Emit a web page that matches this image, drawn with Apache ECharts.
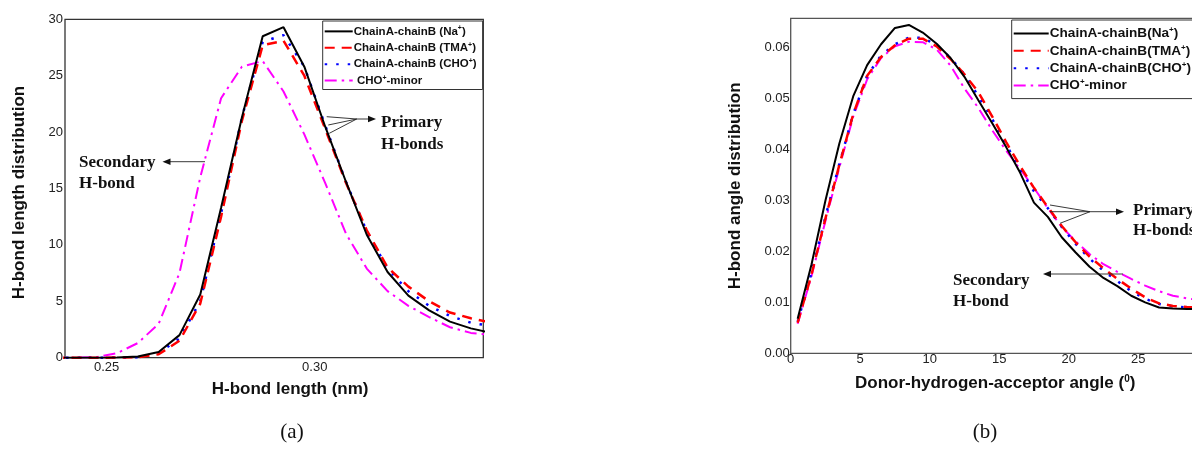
<!DOCTYPE html>
<html>
<head>
<meta charset="utf-8">
<script src="https://cdn.jsdelivr.net/npm/echarts@6/dist/echarts.min.js"></script>
<style>html,body{margin:0;padding:0;background:#fff}#c{width:1192px;height:472px}</style>
</head>
<body>
<div id="c"></div>
<script>
// ---- Panel (a): H-bond length distribution ----
const lenX = [0.2375,0.2425,0.2475,0.2525,0.2575,0.2625,0.2675,0.2725,0.2775,0.2825,0.2875,0.2925,0.2975,0.3025,0.3075,0.3125,0.3175,0.3225,0.3275,0.3325,0.3375,0.3425];
const lenNa    = [0,0,0,0.02,0.1,0.5,2.0,5.6,13.3,21.3,28.5,29.3,25.8,20.5,15.6,10.9,7.6,5.5,4.2,3.2,2.6,2.2];
const lenTMA   = [0,0,0,0.01,0.05,0.3,1.5,4.8,12.5,21.0,27.7,28.1,25.0,20.3,15.5,11.3,8.0,6.3,5.0,4.0,3.5,3.1];
const lenCHO   = [0,0,0,0.01,0.05,0.4,1.7,5.0,12.8,21.3,28.0,28.6,25.8,20.6,15.6,11.2,7.9,5.9,4.6,3.7,3.1,2.8];
const lenMinor = [0,0,0.05,0.4,1.3,3.0,7.5,16.0,23.0,25.8,26.3,23.6,19.8,15.5,11.0,7.9,5.9,4.6,3.6,2.7,2.2,2.0];
const lenTicks = [0.25,0.30];
const lenYTicks = [0,5,10,15,20,25,30];

// ---- Panel (b): H-bond angle distribution ----
const angX = [0.5,1.5,2.5,3.5,4.5,5.5,6.5,7.5,8.5,9.5,10.5,11.5,12.5,13.5,14.5,15.5,16.5,17.5,18.5,19.5,20.5,21.5,22.5,23.5,24.5,25.5,26.5,27.5,28.5,29.5,30.5];
const angNa    = [0.0068,0.0175,0.0300,0.0412,0.0505,0.0566,0.0607,0.0639,0.0645,0.0630,0.0608,0.0580,0.0543,0.0497,0.0452,0.0405,0.0355,0.0296,0.0268,0.0228,0.0198,0.0170,0.0148,0.0132,0.0113,0.0100,0.0090,0.0088,0.0087,0.0087,0.0087];
const angTMA   = [0.0060,0.0155,0.0265,0.0370,0.0470,0.0545,0.0582,0.0605,0.0618,0.0618,0.0603,0.0578,0.0548,0.0513,0.0465,0.0415,0.0368,0.0325,0.0287,0.0250,0.0218,0.0190,0.0167,0.0146,0.0127,0.0110,0.0098,0.0093,0.0091,0.0090,0.0090];
const angCHO   = [0.0062,0.0158,0.0268,0.0372,0.0470,0.0545,0.0585,0.0607,0.0620,0.0620,0.0605,0.0580,0.0548,0.0505,0.0460,0.0410,0.0362,0.0318,0.0285,0.0248,0.0215,0.0186,0.0162,0.0142,0.0122,0.0107,0.0097,0.0092,0.0090,0.0090,0.0090];
const angMinor = [0.0058,0.0152,0.0260,0.0365,0.0465,0.0538,0.0580,0.0603,0.0612,0.0611,0.0597,0.0565,0.0520,0.0482,0.0438,0.0398,0.0362,0.0325,0.0285,0.0248,0.0220,0.0195,0.0175,0.0160,0.0146,0.0133,0.0122,0.0113,0.0108,0.0104,0.0101];
const angTicks = [0,5,10,15,20,25];

const namesA = ['ChainA-chainB (Na+)','ChainA-chainB (TMA+)','ChainA-chainB (CHO+)',' CHO+-minor'];
const namesB = ['ChainA-chainB(Na+)','ChainA-chainB(TMA+)','ChainA-chainB(CHO+)','CHO+-minor'];

function pairs(xs, ys){ return xs.map((x,i)=>[x, ys[i]]); }
function supFmt(name){
  const i = name.indexOf('+');
  return '{t|' + name.slice(0,i) + '}{s|+}{t|' + name.slice(i+1) + '}';
}

const styles = [
  {color:'#000000', width:2,   type:'solid'},
  {color:'#ff0000', width:2.5, type:[10,7]},
  {color:'#0000ff', width:2.5, type:[2.5,9]},
  {color:'#ff00ff', width:2,   type:[12,5,2.5,5]}
];

function mkSeries(names, xs, ys, gi){
  return names.map((n,k)=>({
    name:n, type:'line', xAxisIndex:gi, yAxisIndex:gi,
    data:pairs(xs, ys[k]), symbol:'none', smooth:false, clip:true,
    lineStyle:{color:styles[k].color, width:styles[k].width, type:styles[k].type},
    itemStyle:{color:styles[k].color},
    z: 4-k
  }));
}

const titleFont = {fontFamily:'Arial, "Liberation Sans", sans-serif', fontWeight:'bold', fontSize:17, color:'#111'};
const tickFont = {fontFamily:'Arial, "Liberation Sans", sans-serif', fontSize:13, color:'#222'};
const serifB = '"Liberation Serif", "Times New Roman", serif';

function legendCfg(names, left, top, fs, iw, pad, gap, lh){
  return {
    data: names.map(n=>({name:n})),
    orient:'vertical', left:left, top:top,
    itemWidth:iw, itemHeight:12, itemGap:gap,
    padding:pad,
    backgroundColor:'#fff', borderColor:'#333', borderWidth:1, borderRadius:0,
    selectedMode:false,
    itemStyle:{opacity:0},
    formatter: supFmt,
    textStyle:{
      padding:[0,0,0,-4],
      rich:{
        t:{fontFamily:'Arial, "Liberation Sans", sans-serif', fontWeight:'bold', fontSize:fs, color:'#111', lineHeight:lh},
        s:{fontFamily:'Arial, "Liberation Sans", sans-serif', fontWeight:'bold', fontSize:Math.round(fs*0.6), color:'#111', padding:[0,0,fs*0.5,0]}
      }
    }
  };
}

function arrowHead(tipX, tipY, dir){
  const L = 8, H = 3.2;
  return {type:'polygon', shape:{points:[[tipX,tipY],[tipX-dir*L,tipY-H],[tipX-dir*L,tipY+H]]}, style:{fill:'#111'}, z:10};
}
function seg(x1,y1,x2,y2){
  return {type:'line', shape:{x1,y1,x2,y2}, style:{stroke:'#222', lineWidth:0.9}, z:10};
}
function txt(x,y,t,fs,align,font){
  return {type:'text', x, y, style:{text:t, fontFamily:font||serifB, fontWeight:'bold', fontSize:fs, fill:'#111', align:align||'left', verticalAlign:'middle'}, z:10};
}

const option = {
  backgroundColor:'#ffffff',
  animation:false,
  grid:[
    {left:65, top:19.3, width:418.3, height:338.4, show:true, borderColor:'#333', borderWidth:1.3, backgroundColor:'transparent', outerBoundsMode:'none', containLabel:false},
    {left:790.7, top:18.3, width:417, height:335, show:true, borderColor:'#555', borderWidth:1.3, backgroundColor:'transparent', outerBoundsMode:'none', containLabel:false}
  ],
  xAxis:[
    {gridIndex:0, type:'value', min:0.24, max:0.3405,
     axisLine:{show:false}, axisTick:{show:false}, splitLine:{show:false},
     axisLabel:Object.assign({customValues:lenTicks, formatter:v=>v.toFixed(2), margin:3}, tickFont),
     name:'H-bond length (nm)', nameLocation:'middle', nameGap:23,
     nameTextStyle:Object.assign({padding:[0,0,0,32]}, titleFont)},
    {gridIndex:1, type:'value', min:0, max:30, interval:5,
     axisLine:{show:false}, axisTick:{show:false}, splitLine:{show:false},
     axisLabel:Object.assign({margin:0, customValues:angTicks}, tickFont),
     name:'{t|Donor-hydrogen-acceptor angle (}{s|0}{t|)}', nameLocation:'middle', nameGap:21,
     nameTextStyle:{padding:[0,8,0,0], rich:{t:titleFont, s:Object.assign({}, titleFont, {fontSize:10, padding:[0,0,9,0]})}}}
  ],
  yAxis:[
    {gridIndex:0, type:'value', min:0, max:30, interval:5,
     axisLine:{show:false}, axisTick:{show:false}, splitLine:{show:false},
     axisLabel:Object.assign({margin:2, customValues:lenYTicks}, tickFont),
     name:'H-bond length distribution', nameLocation:'middle', nameGap:37, nameRotate:90,
     nameTextStyle:Object.assign({padding:[0,8,0,0]}, titleFont)},
    {gridIndex:1, type:'value', min:0, max:0.0658, interval:0.01,
     axisLine:{show:false}, axisTick:{show:false}, splitLine:{show:false},
     axisLabel:Object.assign({margin:1, showMaxLabel:false, formatter:v=>v.toFixed(2)}, tickFont),
     name:'H-bond angle distribution', nameLocation:'middle', nameGap:47, nameRotate:90,
     nameTextStyle:titleFont}
  ],
  legend:[
    legendCfg(namesA, 322.7, 21, 11.5, 28, [4,6,3,1], 4, 13),
    legendCfg(namesB, 1011.7, 20, 13.6, 35, [6,6,6,1], 3, 13)
  ],
  series:[].concat(
    mkSeries(namesA, lenX, [lenNa, lenTMA, lenCHO, lenMinor], 0),
    mkSeries(namesB, angX, [angNa, angTMA, angCHO, angMinor], 1)
  ),
  graphic:[
    // Panel (a) annotations
    seg(326.7,116.7,356.7,119), seg(328.3,125,356.7,119), seg(329.3,133.3,356.7,119),
    seg(356.7,119,368,119), arrowHead(376,119,1),
    txt(381,123,'Primary',17), txt(381,145,'H-bonds',17),
    seg(205,161.7,170,161.7), arrowHead(162.5,161.7,-1),
    txt(79,163,'Secondary',17), txt(79,184,'H-bond',17),
    // Panel (b) annotations
    seg(1050,205,1090,211.7), seg(1050,211.7,1090,211.7), seg(1060,223.3,1090,211.7),
    seg(1090,211.7,1116,211.7), arrowHead(1124,211.7,1),
    txt(1133,211,'Primary',17), txt(1133,231,'H-bonds',17),
    seg(1123,274,1051,274), arrowHead(1043,274,-1),
    txt(953,281,'Secondary',17), txt(953,302,'H-bond',17),
    // panel labels
    {type:'text', x:292, y:432, style:{text:'(a)', fontFamily:'"Liberation Serif", "Times New Roman", serif', fontSize:21, fill:'#111', align:'center', verticalAlign:'middle'}},
    {type:'text', x:985, y:432, style:{text:'(b)', fontFamily:'"Liberation Serif", "Times New Roman", serif', fontSize:21, fill:'#111', align:'center', verticalAlign:'middle'}}
  ]
};

const chart = echarts.init(document.getElementById('c'), null, {renderer:'canvas'});
chart.setOption(option);
</script>
</body>
</html>
